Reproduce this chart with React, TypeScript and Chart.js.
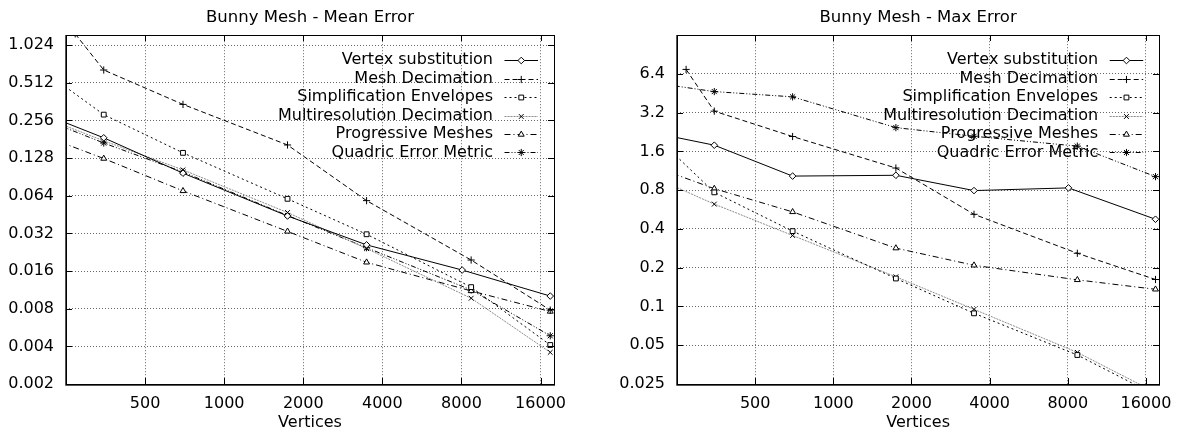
import React, { useEffect, useRef } from 'react';
import { Chart, registerables } from 'chart.js';
import { drawPoint } from 'chart.js/helpers';

Chart.register(...registerables);

const FONT = '"DejaVu Sans", "Liberation Sans", sans-serif';

// ---------- data ----------
const seriesNames = [
  'Vertex substitution',
  'Mesh Decimation',
  'Simplification Envelopes',
  'Multiresolution Decimation',
  'Progressive Meshes',
  'Quadric Error Metric',
];

const verticesStd = [174, 348, 697, 1742, 3483, 8709, 17417];
const verticesVertexSub = [174, 348, 697, 1742, 3483, 8050, 17417];
const verticesMeshDec = [271, 348, 697, 1742, 3483, 8709, 17417];

const meanVertexSub = [0.331, 0.186, 0.097, 0.0441, 0.0259, 0.0163, 0.0101];
const meanMeshDec = [1.26, 0.648, 0.344, 0.163, 0.0585, 0.0196, 0.0078];
const meanSimpEnv = [0.82, 0.285, 0.141, 0.0605, 0.0315, 0.0119, 0.0041];
const meanMultiRes = [0.31, 0.176, 0.103, 0.047, 0.0242, 0.0097, 0.00358];
const meanProgMesh = [0.221, 0.127, 0.07, 0.0332, 0.0188, 0.0111, 0.0076];
const meanQuadric = [0.301, 0.169, 0.099, 0.0445, 0.0246, 0.0113, 0.00486];

const maxVertexSub = [2.38, 1.79, 1.03, 1.045, 0.795, 0.834, 0.476];
const maxMeshDec = [6.94, 3.29, 2.09, 1.19, 0.52, 0.259, 0.162];
const maxSimpEnv = [2.92, 0.77, 0.385, 0.165, 0.0885, 0.042, 0.0205];
const maxMultiRes = [1.16, 0.624, 0.356, 0.17, 0.095, 0.044, 0.0215];
const maxProgMesh = [1.37, 0.823, 0.543, 0.284, 0.209, 0.161, 0.136];
const maxQuadric = [5.71, 4.67, 4.25, 2.45, 2.1, 1.76, 1.02];

const xTickValues = [500, 1000, 2000, 4000, 8000, 16000];
const xTickLabels = ['500', '1000', '2000', '4000', '8000', '16000'];
const meanTickValues = [0.002, 0.004, 0.008, 0.016, 0.032, 0.064, 0.128, 0.256, 0.512, 1.024];
const meanTickLabels = ['0.002', '0.004', '0.008', '0.016', '0.032', '0.064', '0.128', '0.256', '0.512', '1.024'];
const maxTickValues = [0.025, 0.05, 0.1, 0.2, 0.4, 0.8, 1.6, 3.2, 6.4];
const maxTickLabels = ['0.025', '0.05', '0.1', '0.2', '0.4', '0.8', '1.6', '3.2', '6.4'];

const X_MIN = 250;
const X_MAX = 18000;
const MEAN_MIN = 0.002;
const MEAN_MAX = 1.23;
const MAX_MIN = 0.025;
const MAX_MAX = 12.8;

// ---------- styles ----------
const styles = [
  { color: '#000', dash: [] as number[], point: 'rectRot', radius: 3.3, fill: '#fff', pointColor: '#000' },
  { color: '#000', dash: [5, 3], point: 'cross', radius: 3.6, fill: '#000', pointColor: '#000' },
  { color: '#000', dash: [2, 3], point: 'rect', radius: 3.4, fill: '#fff', pointColor: '#000' },
  { color: '#8a8a8a', dash: [2, 1], point: 'crossRot', radius: 3.4, fill: '#000', pointColor: '#000' },
  { color: '#000', dash: [6, 3, 1, 3], point: 'triangle', radius: 3.4, fill: '#fff', pointColor: '#000' },
  { color: '#000', dash: [5, 2, 1, 2, 1, 2], point: 'star', radius: 3.6, fill: '#000', pointColor: '#000' },
];

const decorPlugin = {
  id: 'gnuplotDecor',
  afterDatasetsDraw(chart: any) {
    const { ctx, chartArea: a, scales } = chart;
    const L = Math.round(a.left), R = Math.round(a.right), T = Math.round(a.top), B = Math.round(a.bottom);
    ctx.save();
    ctx.setLineDash([]);
    // tick marks (inward, mirrored)
    ctx.strokeStyle = '#000';
    ctx.lineWidth = 1;
    const tl = 6;
    ctx.beginPath();
    scales.x.ticks.forEach((t: any) => {
      const px = Math.round(scales.x.getPixelForValue(t.value)) + 0.5;
      ctx.moveTo(px, B); ctx.lineTo(px, B - tl);
      ctx.moveTo(px, T); ctx.lineTo(px, T + tl);
    });
    scales.y.ticks.forEach((t: any) => {
      const py = Math.round(scales.y.getPixelForValue(t.value)) + 0.5;
      ctx.moveTo(L, py); ctx.lineTo(L + tl, py);
      ctx.moveTo(R, py); ctx.lineTo(R - tl, py);
    });
    ctx.stroke();
    // frame
    ctx.strokeRect(L + 0.5, T + 0.5, R - L, B - T);
    ctx.strokeStyle = '#555';
    ctx.beginPath();
    ctx.moveTo(L - 0.5, T); ctx.lineTo(L - 0.5, B + 1.5);
    ctx.moveTo(L - 0.5, B + 1.5); ctx.lineTo(R + 1, B + 1.5);
    ctx.stroke();

    // legend (gnuplot style: right-aligned text, sample on the right)
    ctx.font = '16px ' + FONT;
    ctx.textAlign = 'right';
    ctx.textBaseline = 'middle';
    chart.data.datasets.forEach((ds: any, i: number) => {
      const y = a.top + 25 + i * 18.45;
      ctx.fillStyle = '#000';
      ctx.fillText(ds.label, a.right - 61, y);
      const x0 = a.right - 49.5, x1 = a.right - 16;
      ctx.save();
      ctx.strokeStyle = ds.borderColor;
      ctx.lineWidth = 1;
      ctx.setLineDash(ds.borderDash || []);
      ctx.beginPath();
      ctx.moveTo(x0, Math.round(y) + 0.5);
      ctx.lineTo(x1, Math.round(y) + 0.5);
      ctx.stroke();
      ctx.restore();
      ctx.save();
      ctx.setLineDash([]);
      ctx.strokeStyle = ds.pointBorderColor;
      ctx.fillStyle = ds.pointBackgroundColor;
      ctx.lineWidth = 1;
      drawPoint(ctx, { pointStyle: ds.pointStyle, radius: ds.pointRadius, borderWidth: 1, rotation: 0 } as any, (x0 + x1) / 2, Math.round(y) + 0.5);
      ctx.restore();
    });
    ctx.restore();
  },
};

function makeConfig(
  title: string,
  xsList: number[][],
  ysList: number[][],
  yMin: number,
  yMax: number,
  yTicks: number[],
  yLabels: string[],
  yAxisWidth: number,
  rightPad: number,
): any {
  const font = { family: FONT, size: 16, weight: 'normal' as const };
  return {
    type: 'line',
    data: {
      datasets: ysList.map((ys, i) => ({
        label: seriesNames[i],
        data: xsList[i].map((x, j) => ({ x, y: ys[j] })),
        borderColor: styles[i].color,
        borderWidth: 1,
        borderDash: styles[i].dash,
        pointStyle: styles[i].point,
        pointRadius: styles[i].radius,
        pointHoverRadius: styles[i].radius,
        pointBorderColor: styles[i].pointColor,
        pointBackgroundColor: styles[i].fill,
        pointBorderWidth: 1,
        tension: 0,
        fill: false,
        clip: 0,
      })),
    },
    options: {
      responsive: false,
      animation: false,
      devicePixelRatio: 1,
      events: [],
      layout: { padding: { left: 0, right: rightPad, top: 0, bottom: 0 } },
      plugins: {
        legend: { display: false },
        tooltip: { enabled: false },
        title: {
          display: true,
          text: title,
          fullSize: false,
          color: '#000',
          font: { family: FONT, size: 16.5, weight: 'normal' as const },
          padding: { top: 8, bottom: 7.4 },
        },
      },
      scales: {
        x: {
          type: 'logarithmic',
          position: 'bottom',
          min: X_MIN,
          max: X_MAX,
          afterBuildTicks: (s: any) => {
            s.ticks = xTickValues.map((v) => ({ value: v }));
          },
          afterFit: (s: any) => {
            s.height = 51;
          },
          ticks: {
            autoSkip: false,
            maxRotation: 0,
            minRotation: 0,
            padding: 10,
            color: '#000',
            font,
            callback: (_v: any, idx: number) => xTickLabels[idx],
          },
          grid: { drawTicks: false, color: '#666', lineWidth: 1 },
          border: { display: false, dash: [1, 2] },
          title: {
            display: true,
            text: 'Vertices',
            color: '#000',
            font,
            padding: { top: 0, bottom: 3 },
          },
        },
        y: {
          type: 'logarithmic',
          min: yMin,
          max: yMax,
          afterBuildTicks: (s: any) => {
            s.ticks = yTicks.map((v) => ({ value: v }));
          },
          afterFit: (s: any) => {
            s.width = yAxisWidth;
          },
          ticks: {
            autoSkip: false,
            padding: 12,
            color: '#000',
            font,
            callback: (_v: any, idx: number) => yLabels[idx],
          },
          grid: { drawTicks: false, color: '#666', lineWidth: 1 },
          border: { display: false, dash: [1, 2] },
        },
      },
    },
    plugins: [decorPlugin],
  };
}

const xsAll = [verticesVertexSub, verticesMeshDec, verticesStd, verticesStd, verticesStd, verticesStd];

function GnuChart({ config, left }: { config: any; left: number }) {
  const ref = useRef<HTMLCanvasElement>(null);
  useEffect(() => {
    const chart = new Chart(ref.current as HTMLCanvasElement, config);
    return () => chart.destroy();
  }, []);
  return (
    <canvas
      ref={ref}
      width={591}
      height={435}
      style={{ position: 'absolute', left, top: 0, width: 591, height: 435 }}
    />
  );
}

export default function App() {
  const meanConfig = makeConfig(
    'Bunny Mesh - Mean Error',
    xsAll,
    [meanVertexSub, meanMeshDec, meanSimpEnv, meanMultiRes, meanProgMesh, meanQuadric],
    MEAN_MIN,
    MEAN_MAX,
    meanTickValues,
    meanTickLabels,
    66,
    37,
  );
  const maxConfig = makeConfig(
    'Bunny Mesh - Max Error',
    xsAll,
    [maxVertexSub, maxMeshDec, maxSimpEnv, maxMultiRes, maxProgMesh, maxQuadric],
    MAX_MIN,
    MAX_MAX,
    maxTickValues,
    maxTickLabels,
    86,
    17,
  );
  return (
    <div style={{ position: 'absolute', left: 0, top: 0, width: 1182, height: 435, background: '#fff' }}>
      <GnuChart config={meanConfig} left={0} />
      <GnuChart config={maxConfig} left={591} />
    </div>
  );
}
